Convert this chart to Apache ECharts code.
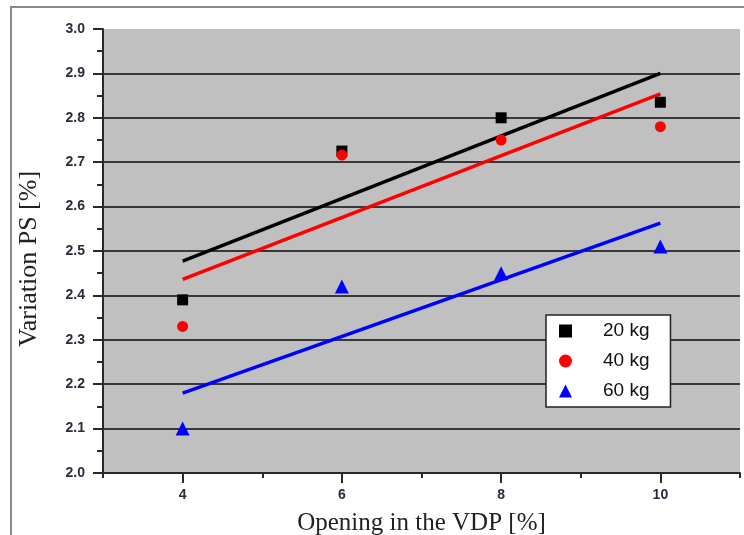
<!DOCTYPE html>
<html>
<head>
<meta charset="utf-8">
<script src="https://cdn.jsdelivr.net/npm/echarts@6/dist/echarts.min.js"></script>
<style>html,body{margin:0;padding:0;background:#fff}#c{width:744px;height:535px}</style>
</head>
<body>
<div id="c"></div>
<script>
const openings = [4, 6, 8, 10];
const seriesNames = ['20 kg', '40 kg', '60 kg'];
const ps20 = [2.39, 2.725, 2.80, 2.835];
const ps40 = [2.33, 2.716, 2.75, 2.78];
const ps60 = [2.10, 2.42, 2.45, 2.51];
const trendX = [4, 10];
const trend20 = [2.477, 2.900];
const trend40 = [2.436, 2.854];
const trend60 = [2.180, 2.563];
const xMajorTicks = [4, 6, 8, 10];
const xMinorTicks = [3, 5, 7, 9, 11];

const pts = (ys) => openings.map((x, i) => [x, ys[i]]);
const tr = (ys) => trendX.map((x, i) => [x, ys[i]]);
const colors = ['#000000', '#ff0000', '#0000ff'];
const symbols = ['rect', 'circle', 'triangle'];
const sizes = [11, 11, 14];
const vals = [ps20, ps40, ps60];
const trends = [trend20, trend40, trend60];

const series = [];
trends.forEach((t, i) => {
  series.push({
    type: 'line', data: tr(t), showSymbol: false, symbol: 'none', silent: true,
    lineStyle: { color: colors[i], width: 3.5 }, z: 3
  });
});
vals.forEach((v, i) => {
  series.push({
    name: seriesNames[i], type: 'scatter', data: pts(v), symbol: symbols[i],
    symbolSize: sizes[i], itemStyle: { color: colors[i], opacity: 1 }, z: 4
  });
});

const chart = echarts.init(document.getElementById('c'));
chart.setOption({
  backgroundColor: '#ffffff',
  animation: false,
  graphic: [{
    type: 'rect', shape: { x: 11, y: 7, width: 800, height: 600 },
    style: { fill: 'none', stroke: '#8a8a8a', lineWidth: 2 }, silent: true, z: 0
  }],
  grid: { left: 103, right: 4, top: 29, bottom: 62, show: true, backgroundColor: '#c0c0c0', borderWidth: 0, outerBoundsMode: 'none', containLabel: false },
  legend: {
    data: seriesNames.map((n, i) => ({ name: n, icon: symbols[i] })),
    orient: 'vertical', left: 546, top: 315,
    padding: [6, 21, 6, 13], itemGap: 10, itemWidth: 13, itemHeight: 13,
    backgroundColor: '#ffffff', borderColor: '#222', borderWidth: 1.5, borderRadius: 0,
    textStyle: { fontFamily: 'Arial, Liberation Sans', fontSize: 19, color: '#111', lineHeight: 20, padding: [0, 0, 0, 26] }
  },
  xAxis: [{
    type: 'value', min: 3, max: 11, interval: 1,
    name: 'Opening in the VDP [%]', nameLocation: 'middle', nameGap: 38,
    nameTextStyle: { fontFamily: 'Liberation Serif, Times New Roman, serif', fontSize: 25, color: '#222' },
    axisLine: { show: true, onZero: false, lineStyle: { color: '#2a2a2a', width: 2 } },
    axisTick: { show: true, customValues: xMajorTicks, length: 10, lineStyle: { color: '#2a2a2a', width: 2 } },
    axisLabel: { customValues: xMajorTicks, margin: 15, fontFamily: 'Arial, Liberation Sans', fontWeight: 'bold', fontSize: 14, color: '#2b2b3d' },
    splitLine: { show: false }
  }, {
    type: 'value', min: 3, max: 11, interval: 1, position: 'bottom', gridIndex: 0,
    axisLine: { show: false },
    axisTick: { show: true, customValues: xMinorTicks, length: 5, lineStyle: { color: '#2a2a2a', width: 2 } },
    axisLabel: { show: false }, splitLine: { show: false }
  }],
  yAxis: {
    type: 'value', min: 2.0, max: 3.0, interval: 0.1,
    name: 'Variation PS [%]', nameLocation: 'middle', nameGap: 61,
    nameTextStyle: { fontFamily: 'Liberation Serif, Times New Roman, serif', fontSize: 26, color: '#222', padding: [0, 16, 0, 0] },
    axisLine: { show: true, onZero: false, lineStyle: { color: '#2a2a2a', width: 2 } },
    axisTick: { show: true, length: 10, lineStyle: { color: '#2a2a2a', width: 2 } },
    minorTick: { show: true, splitNumber: 2, length: 6, lineStyle: { color: '#2a2a2a', width: 2 } },
    axisLabel: { margin: 18, formatter: v => v.toFixed(1), fontFamily: 'Arial, Liberation Sans', fontWeight: 'bold', fontSize: 14, color: '#2b2b3d' },
    splitLine: { show: true, showMinLine: false, showMaxLine: false, lineStyle: { color: '#383838', width: 2 } }
  },
  series: series
});
</script>
</body>
</html>
